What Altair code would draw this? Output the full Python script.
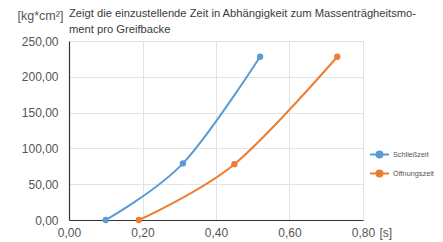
import altair as alt
import pandas as pd

series_names = ["Schließzeit", "Öffnungszeit"]
series_colors = ["#5B9BD5", "#ED7D31"]
schliess_t = [0.10, 0.31, 0.52]
schliess_m = [0, 79, 228]
oeffnung_t = [0.19, 0.45, 0.73]
oeffnung_m = [0, 78, 228]
x_ticks = [0, 0.2, 0.4, 0.6, 0.8]
y_ticks = [0, 50, 100, 150, 200, 250]
title_lines = ["Zeigt die einzustellende Zeit in Abhängigkeit zum Massenträgheitsmo-",
               "ment pro Greifbacke"]

rows = []
for t, m in zip(schliess_t, schliess_m):
    rows.append({"t": t, "m": m, "s": series_names[0]})
for t, m in zip(oeffnung_t, oeffnung_m):
    rows.append({"t": t, "m": m, "s": series_names[1]})
df = pd.DataFrame(rows)

FONT = "Liberation Sans"
lbl = "replace(format(datum.value, '.2f'), '.', ',')"

x = alt.X("t:Q", scale=alt.Scale(domain=[0, 0.8], nice=False, zero=False),
          axis=alt.Axis(values=x_ticks, labelExpr=lbl, labelFlush=False, title="[s]",
                        titleAngle=0, titleX=310, titleY=12, titleAlign="left",
                        titleBaseline="middle", titleFontWeight="normal", titleFontSize=12,
                        titleColor="#555", titleFont=FONT, labelPadding=7))
y = alt.Y("m:Q", scale=alt.Scale(domain=[0, 250], nice=False),
          axis=alt.Axis(values=y_ticks, labelExpr=lbl, labelFlush=False, title="[kg*cm²]",
                        titleAngle=0, titleX=-29, titleY=-26, titleAlign="center",
                        titleBaseline="middle", titleFontWeight="normal", titleFontSize=12.5,
                        titleColor="#555", titleFont=FONT, labelPadding=11))
color = alt.Color("s:N", scale=alt.Scale(domain=series_names, range=series_colors),
                  legend=alt.Legend(title=None, orient="none", legendX=300, legendY=103,
                                    symbolType="M-1,0L1,0M0.32,0A0.32,0.32,0,1,1,-0.32,0A0.32,0.32,0,1,1,0.32,0Z",
                                    symbolSize=361, symbolStrokeWidth=2,
                                    labelFontSize=7.3, labelColor="#555", labelFont=FONT,
                                    labelOffset=3, rowPadding=1, padding=0))

line = alt.Chart(df).mark_line(interpolate="cardinal", strokeWidth=2).encode(
    x=x, y=y, color=color, order="t:Q", detail="s:N")
pts = alt.Chart(df).mark_circle(size=40, opacity=1).encode(x=x, y=y, color=color)

chart = alt.layer(line, pts).properties(
    width=294, height=179,
    padding={"left": 61, "top": 33, "right": 72, "bottom": 20},
    autosize=alt.AutoSizeParams(type="none"),
    title=alt.TitleParams(text=title_lines, anchor="start", frame="group", fontSize=11.2,
                          fontWeight="normal", color="#3a3a3a", font=FONT, lineHeight=16,
                          offset=0, dy=26),
).configure_axis(
    gridColor="#e3e3e3", gridWidth=1, domainColor="#333", domainWidth=1.2,
    ticks=False, labelFont=FONT, labelFontSize=12, labelColor="#555"
).configure_view(stroke=None)

chart.save("out.html", embed_options={"renderer": "svg", "actions": False})
